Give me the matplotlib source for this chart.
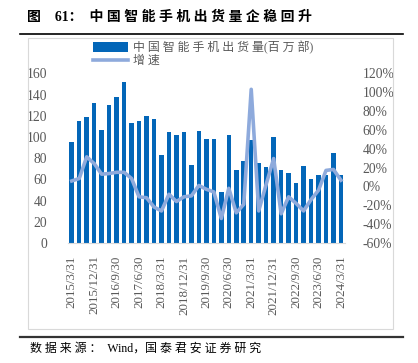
import numpy as np
import pandas as pd
import matplotlib
matplotlib.use('Agg')
from matplotlib import pyplot as plt
from matplotlib.patches import Rectangle
from matplotlib.lines import Line2D

FONT = ['Liberation Serif', 'Noto Sans CJK SC', 'DejaVu Sans']
plt.rcParams['font.family'] = FONT

# Quarterly China smartphone shipments (million units) and YoY growth (%)
quarters = pd.date_range('2015-03-31', '2024-03-31', freq='QE')
shipments = [95, 114.6, 118.7, 131.6, 106.4, 130.3, 137.3, 152, 113.3, 114.6,
             120, 116.8, 82.5, 104.2, 101.7, 104.2, 73.4, 105.5, 97.6, 97.6,
             48.2, 101.7, 68.6, 77.5, 97, 75.3, 71.8, 100.1, 68.6, 66.1,
             57, 73, 60.8, 63.9, 63.9, 84.4, 63.9]
growth = [5.8, 8.4, 31.4, 24.3, 13, 13.7, 15, 15, 8.4, -11,
          -12, -21.8, -26, -8.3, -16, -11, -10, 1, -3, -5.8,
          -34, -2, -28, -19, 103, -26, 2.3, 29.6, -29, -11,
          -18, -26, -14, -4, 17, 18, 6.6]
tickLabels = [f'{d.year}/{d.month}/{d.day}' for d in quarters]

BAR_COLOR = '#0366b8'
LINE_COLOR = '#8eaadc'
TEXT_COLOR = '#595959'


def spaced(text, gap='\u2005'):
    # widen the CJK text a little, like the SimSun layout of the original
    out = ''
    for i, ch in enumerate(text):
        out += ch
        if i < len(text) - 1 and ord(ch) > 127 and ord(text[i + 1]) > 127:
            out += gap
    return out


fig = plt.figure(figsize=(4.18, 3.63), dpi=100)

# Outer frame, title and source lines
fig.patches.append(Rectangle((28 / 418, 1 - 329 / 363), 365 / 418, 291 / 363,
                             transform=fig.transFigure, fill=False,
                             edgecolor='#d9d9d9', linewidth=0.8))
fig.lines.append(Line2D([20 / 418, 403 / 418], [1 - 33.5 / 363] * 2,
                        transform=fig.transFigure, color='black', linewidth=1.2))
fig.lines.append(Line2D([20 / 418, 403 / 418], [1 - 337 / 363] * 2,
                        transform=fig.transFigure, color='#333333', linewidth=1.6))
fig.text(27 / 418, 1 - 17 / 363,
         '图\u2002\u200261：\u2002' + spaced('中国智能手机出货量企稳回升'),
         fontsize=10, fontweight='bold', va='center', ha='left', color='black')
fig.text(30 / 418, 1 - 349 / 363,
         spaced('数据来源：') + '\u2002Wind，' + spaced('国泰君安证券研究'),
         fontsize=8.6, va='center', ha='left', color='black')

ax = fig.add_axes([68 / 418, 1 - 243 / 363, 276.7 / 418, (243 - 73.3) / 363])
x = np.arange(len(shipments))
bars = ax.bar(x, shipments, width=0.6, color=BAR_COLOR, zorder=2)
ax.set_xlim(-0.5, len(shipments) - 0.5)
ax.set_ylim(0, 160)
ax.set_yticks(range(0, 161, 20))
ax.set_xticks(x[::3])
ax.set_xticklabels(tickLabels[::3], rotation=90, fontsize=9.4, color=TEXT_COLOR)
ax.tick_params(axis='both', length=0, colors=TEXT_COLOR)
ax.tick_params(axis='y', labelsize=9.8, pad=15)
ax.tick_params(axis='x', pad=9)
for side in ['top', 'right', 'left']:
    ax.spines[side].set_visible(False)
ax.spines['bottom'].set_color('#d9d9d9')
ax.patch.set_alpha(0)

ax2 = ax.twinx()
line, = ax2.plot(x, growth, color=LINE_COLOR, linewidth=2.6, zorder=3,
                 solid_joinstyle='round')
ax2.set_ylim(-60, 120)
ax2.set_yticks(range(-60, 121, 20))
ax2.set_yticklabels([f'{v}%' for v in range(-60, 121, 20)])
ax2.tick_params(axis='y', length=0, colors=TEXT_COLOR, labelsize=9.8, pad=13)
for side in ['top', 'right', 'left', 'bottom']:
    ax2.spines[side].set_visible(False)

fig.legend([bars, line], [spaced('中国智能手机出货量(百万部)'), spaced('增速')],
           loc='upper left', bbox_to_anchor=(93 / 418, 1 - 41 / 363),
           frameon=False, fontsize=8.6, handlelength=2.9, handleheight=0.9,
           labelspacing=0.05, handletextpad=0.45, labelcolor=TEXT_COLOR,
           borderaxespad=0, borderpad=0)

fig.savefig('out.png', dpi=100)
